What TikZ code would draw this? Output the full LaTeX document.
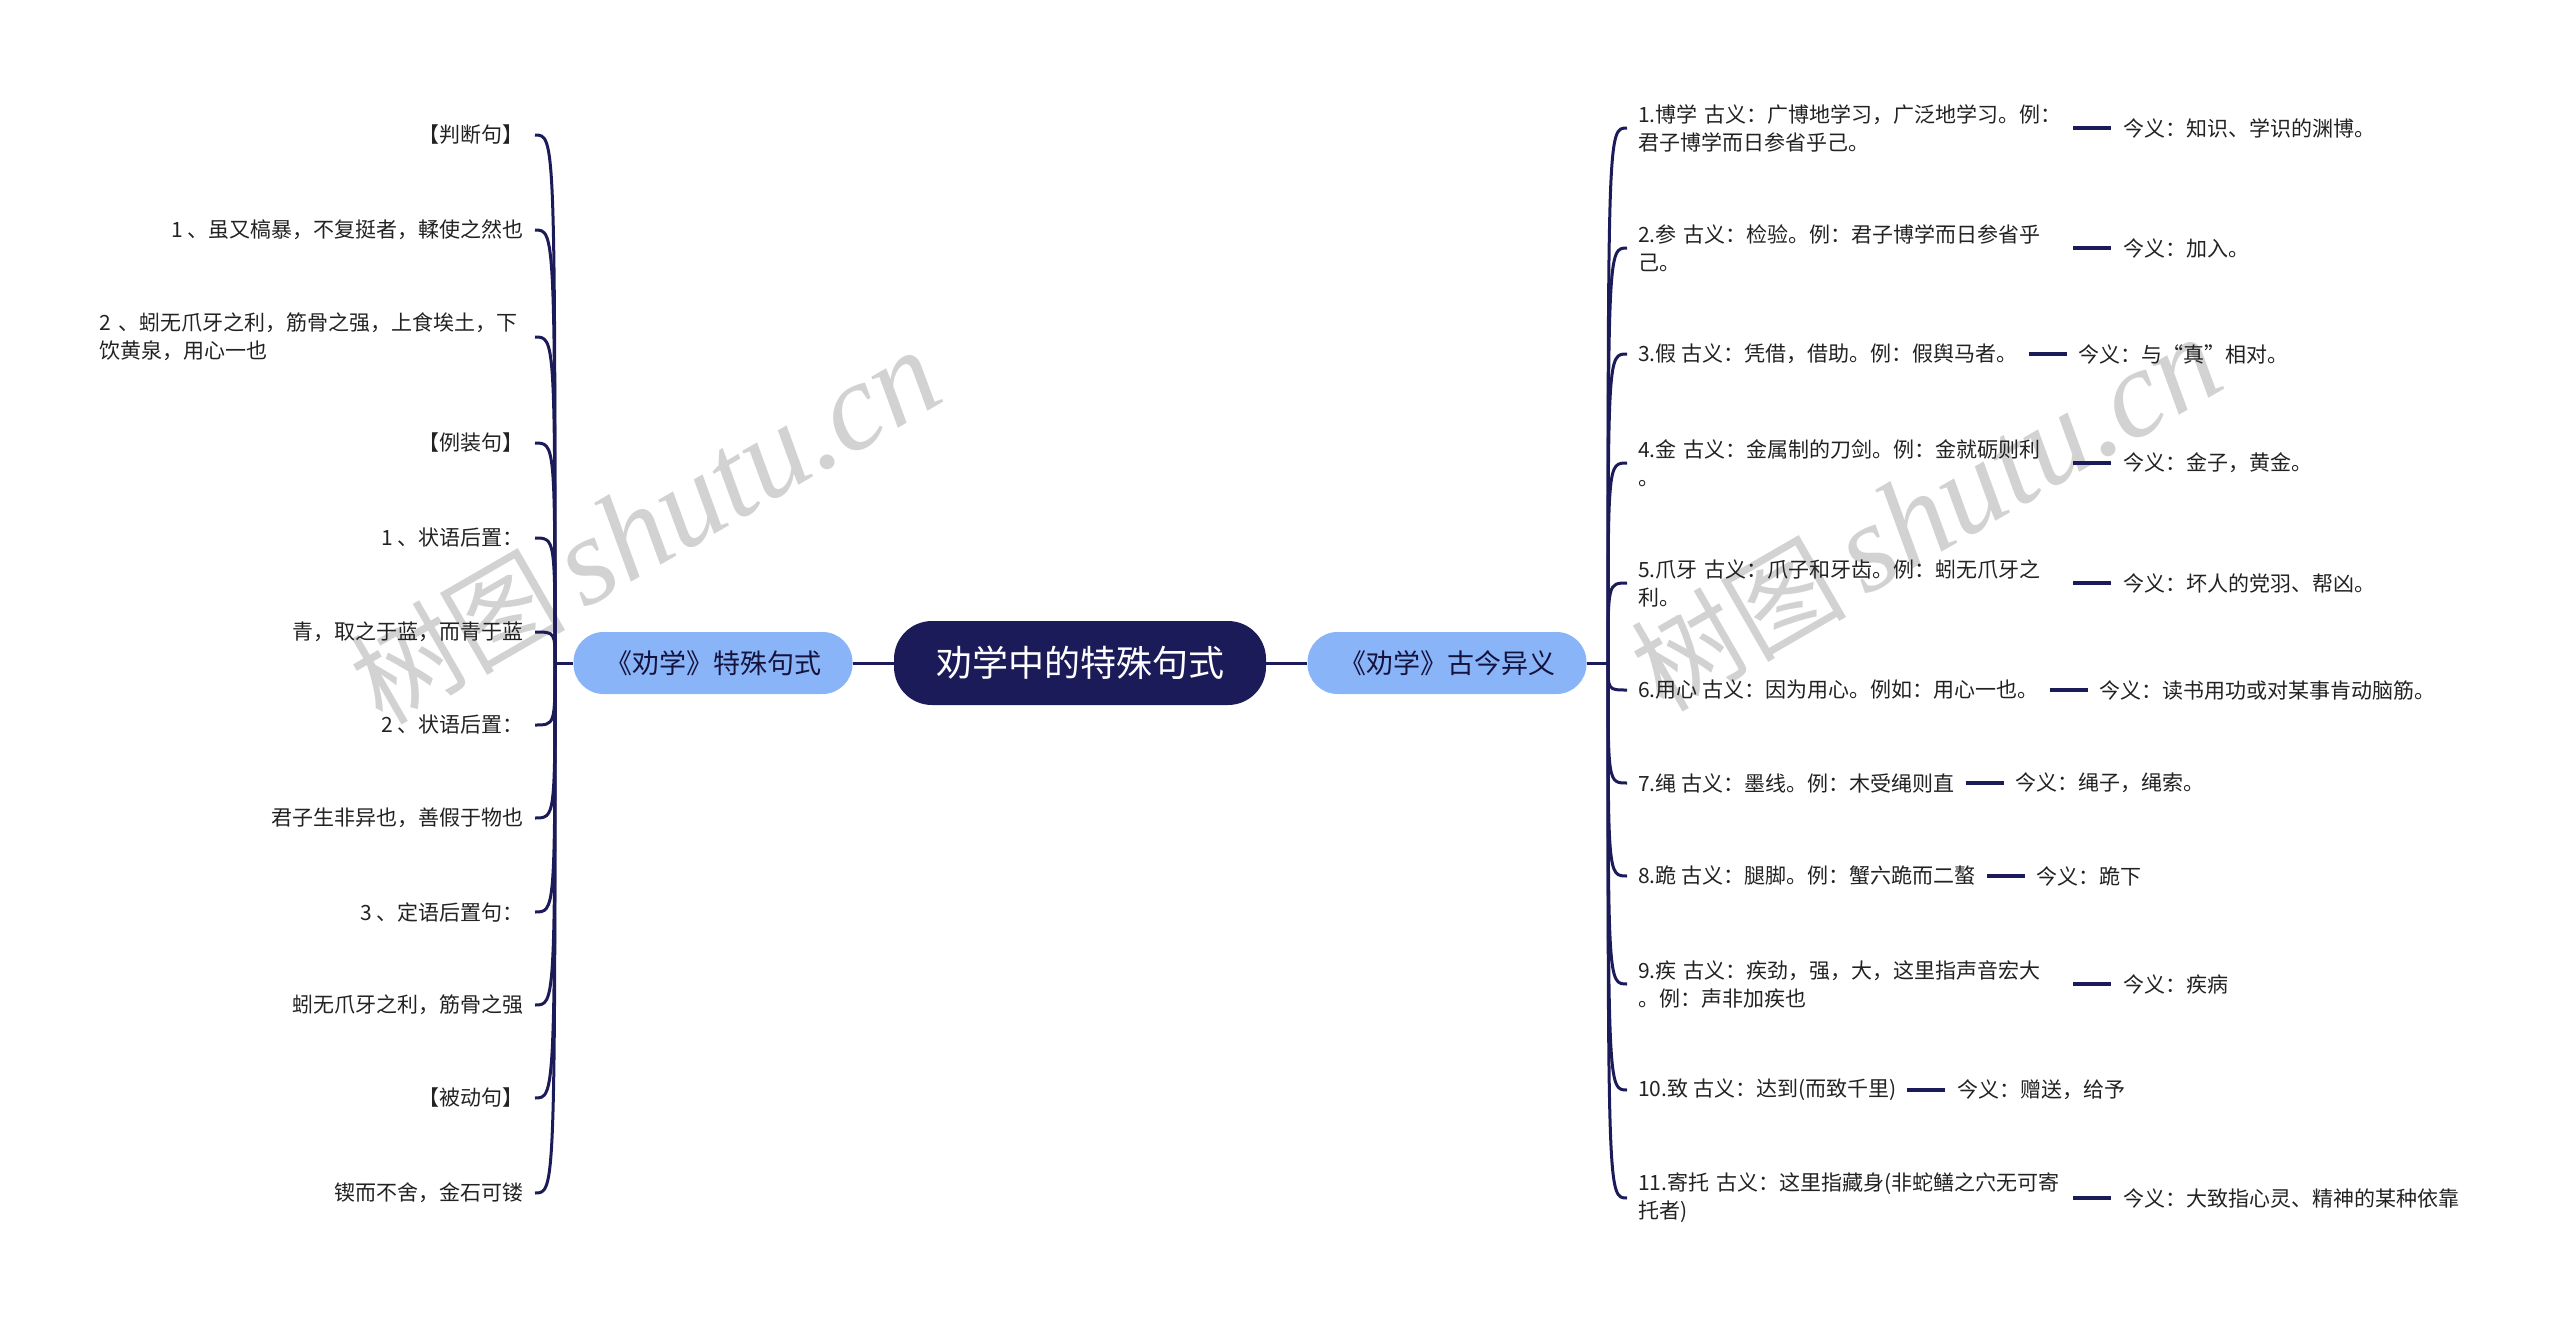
\documentclass[tikz,border=0pt]{standalone}
\usepackage{fontspec}
\setmainfont{Noto Sans CJK SC}
\newfontfamily\wmserif{Liberation Serif}
\usetikzlibrary{positioning}
\definecolor{navy}{HTML}{1C1B59}
\definecolor{skyblue}{HTML}{8AB4F8}
\definecolor{wmgray}{HTML}{D2D2D2}
\definecolor{inkgray}{HTML}{222222}
\tikzset{
  root/.style={fill=navy, text=white, rounded corners=38pt, minimum width=372pt, minimum height=84pt, font=\fontsize{36}{40}\selectfont},
  branch/.style={fill=skyblue, text=navy!70!black, rounded corners=30pt, minimum width=279pt, minimum height=62pt, font=\fontsize{27}{30}\selectfont},
  leaf/.style={text=inkgray, inner xsep=11pt, inner ysep=4pt, font=\fontsize{21}{28}\selectfont},
  wide/.style={text width=424pt, align=left},
  conn/.style={draw=navy, line width=3pt},
  dash line/.style={draw=navy, line width=4.5pt},
  watermark/.style={text=wmgray, rotate=30, inner sep=0pt, font=\fontsize{108}{108}\selectfont}
}
\begin{document}
\begin{tikzpicture}[x=1pt,y=-1pt]
  \useasboundingbox (0,0) rectangle (2560,1328);

  % watermark
  \node[watermark] (wm1) at (645,527) {树图\,{\wmserif\itshape\fontsize{125}{125}\selectfont shutu.cn}};
  \node[watermark] (wm2) at (1926,514) {树图\,{\wmserif\itshape\fontsize{125}{125}\selectfont shutu.cn}};

  % centre and the two branches
  \node[root] (root) at (1080,663) {劝学中的特殊句式};
  \node[branch] (bl) at (713,663) {《劝学》特殊句式};
  \node[branch] (br) at (1447,663) {《劝学》古今异义};
  \coordinate (jl) at (555,663);
  \coordinate (jr) at (1608,663);
  \draw[conn] (jl) -- (bl) -- (root) -- (br) -- (jr);

  % left side
  \node[leaf, anchor=east] (l1) at (535,135) {【判断句】};
  \node[leaf, anchor=east] (l2) at (535,230) {1 、虽又槁暴，不复挺者，輮使之然也};
  \node[leaf, wide, anchor=east] (l3) at (535,337) {2 、蚓无爪牙之利，筋骨之强，上食埃土，下\\饮黄泉，用心一也};
  \node[leaf, anchor=east] (l4) at (535,443) {【例装句】};
  \node[leaf, anchor=east] (l5) at (535,538) {1 、状语后置：};
  \node[leaf, anchor=east] (l6) at (535,632) {青，取之于蓝，而青于蓝};
  \node[leaf, anchor=east] (l7) at (535,725) {2 、状语后置：};
  \node[leaf, anchor=east] (l8) at (535,818) {君子生非异也，善假于物也};
  \node[leaf, anchor=east] (l9) at (535,912) {3 、定语后置句：};
  \node[leaf, anchor=east] (l10) at (535,1005) {蚓无爪牙之利，筋骨之强};
  \node[leaf, anchor=east] (l11) at (535,1098) {【被动句】};
  \node[leaf, anchor=east] (l12) at (535,1193) {锲而不舍，金石可镂};

  \draw[conn] (jl) .. controls (jl |- l1.east) .. (l1.east);
  \draw[conn] (jl) .. controls (jl |- l2.east) .. (l2.east);
  \draw[conn] (jl) .. controls (jl |- l3.east) .. (l3.east);
  \draw[conn] (jl) .. controls (jl |- l4.east) .. (l4.east);
  \draw[conn] (jl) .. controls (jl |- l5.east) .. (l5.east);
  \draw[conn] (jl) .. controls (jl |- l6.east) .. (l6.east);
  \draw[conn] (jl) .. controls (jl |- l7.east) .. (l7.east);
  \draw[conn] (jl) .. controls (jl |- l8.east) .. (l8.east);
  \draw[conn] (jl) .. controls (jl |- l9.east) .. (l9.east);
  \draw[conn] (jl) .. controls (jl |- l10.east) .. (l10.east);
  \draw[conn] (jl) .. controls (jl |- l11.east) .. (l11.east);
  \draw[conn] (jl) .. controls (jl |- l12.east) .. (l12.east);

  % right side
  \node[leaf, wide, anchor=west] (r1) at (1627,128) {1.博学 古义：广博地学习，广泛地学习。例：\\君子博学而日参省乎己。};
  \node[leaf, wide, anchor=west] (r2) at (1627,248) {2.参 古义：检验。例：君子博学而日参省乎\\己。};
  \node[leaf, anchor=west] (r3) at (1627,354) {3.假 古义：凭借，借助。例：假舆马者。};
  \node[leaf, wide, anchor=west] (r4) at (1627,463) {4.金 古义：金属制的刀剑。例：金就砺则利\\。};
  \node[leaf, wide, anchor=west] (r5) at (1627,583) {5.爪牙 古义：爪子和牙齿。例：蚓无爪牙之\\利。};
  \node[leaf, anchor=west] (r6) at (1627,690) {6.用心 古义：因为用心。例如：用心一也。};
  \node[leaf, anchor=west] (r7) at (1627,783) {7.绳 古义：墨线。例：木受绳则直};
  \node[leaf, anchor=west] (r8) at (1627,876) {8.跪 古义：腿脚。例：蟹六跪而二螯};
  \node[leaf, wide, anchor=west] (r9) at (1627,984) {9.疾 古义：疾劲，强，大，这里指声音宏大\\。例：声非加疾也};
  \node[leaf, anchor=west] (r10) at (1627,1090) {10.致 古义：达到(而致千里)};
  \node[leaf, wide, anchor=west] (r11) at (1627,1198) {11.寄托 古义：这里指藏身(非蛇鳝之穴无可寄\\托者)};

  \draw[conn] (jr) .. controls (jr |- r1.west) .. (r1.west);
  \draw[conn] (jr) .. controls (jr |- r2.west) .. (r2.west);
  \draw[conn] (jr) .. controls (jr |- r3.west) .. (r3.west);
  \draw[conn] (jr) .. controls (jr |- r4.west) .. (r4.west);
  \draw[conn] (jr) .. controls (jr |- r5.west) .. (r5.west);
  \draw[conn] (jr) .. controls (jr |- r6.west) .. (r6.west);
  \draw[conn] (jr) .. controls (jr |- r7.west) .. (r7.west);
  \draw[conn] (jr) .. controls (jr |- r8.west) .. (r8.west);
  \draw[conn] (jr) .. controls (jr |- r9.west) .. (r9.west);
  \draw[conn] (jr) .. controls (jr |- r10.west) .. (r10.west);
  \draw[conn] (jr) .. controls (jr |- r11.west) .. (r11.west);

  % present-day meanings
  \node[leaf, inner xsep=12pt, right=38pt of r1] (n1) {今义：知识、学识的渊博。};
  \node[leaf, inner xsep=12pt, right=38pt of r2] (n2) {今义：加入。};
  \node[leaf, inner xsep=12pt, right=38pt of r3] (n3) {今义：与“真”相对。};
  \node[leaf, inner xsep=12pt, right=38pt of r4] (n4) {今义：金子，黄金。};
  \node[leaf, inner xsep=12pt, right=38pt of r5] (n5) {今义：坏人的党羽、帮凶。};
  \node[leaf, inner xsep=12pt, right=38pt of r6] (n6) {今义：读书用功或对某事肯动脑筋。};
  \node[leaf, inner xsep=12pt, right=38pt of r7] (n7) {今义：绳子，绳索。};
  \node[leaf, inner xsep=12pt, right=38pt of r8] (n8) {今义：跪下};
  \node[leaf, inner xsep=12pt, right=38pt of r9] (n9) {今义：疾病};
  \node[leaf, inner xsep=12pt, right=38pt of r10] (n10) {今义：赠送，给予};
  \node[leaf, inner xsep=12pt, right=38pt of r11] (n11) {今义：大致指心灵、精神的某种依靠};

  \draw[dash line] (r1) -- (n1);
  \draw[dash line] (r2) -- (n2);
  \draw[dash line] (r3) -- (n3);
  \draw[dash line] (r4) -- (n4);
  \draw[dash line] (r5) -- (n5);
  \draw[dash line] (r6) -- (n6);
  \draw[dash line] (r7) -- (n7);
  \draw[dash line] (r8) -- (n8);
  \draw[dash line] (r9) -- (n9);
  \draw[dash line] (r10) -- (n10);
  \draw[dash line] (r11) -- (n11);
\end{tikzpicture}
\end{document}
